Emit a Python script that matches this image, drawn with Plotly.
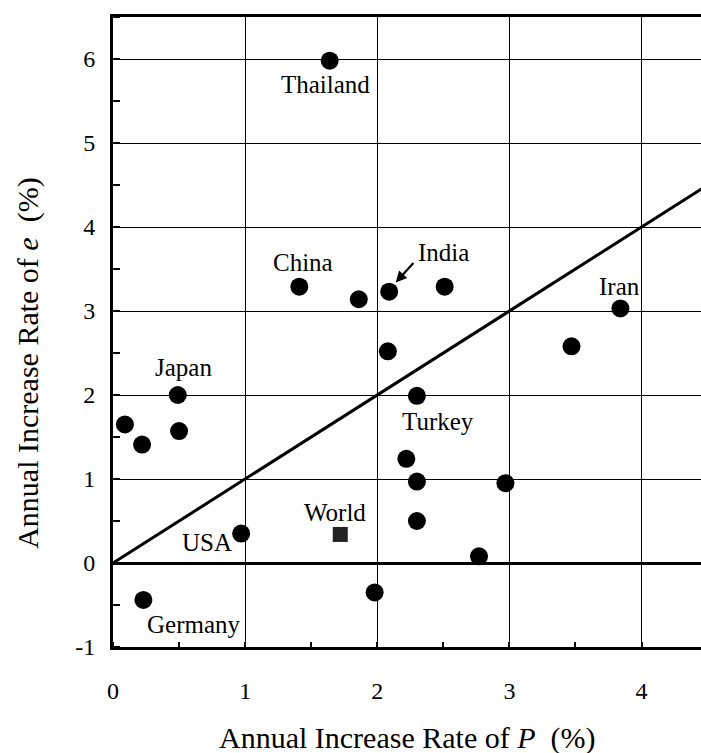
import plotly.graph_objects as go

# Data
pop_rate = [1.64, 1.41, 1.86, 2.09, 2.51, 3.84, 3.47, 2.08, 0.49, 0.09, 0.22,
            0.50, 0.97, 0.23, 2.30, 2.22, 2.30, 2.97, 2.30, 2.77, 1.98]
energy_rate = [5.98, 3.29, 3.14, 3.23, 3.29, 3.03, 2.58, 2.52, 2.00, 1.65, 1.41,
               1.57, 0.35, -0.44, 1.99, 1.24, 0.97, 0.95, 0.50, 0.08, -0.35]
world_pop = [1.72]
world_energy = [0.34]
equal_line = [0, 4.5]

label_names = ["Thailand", "China", "India", "Iran", "Japan", "USA", "World", "Germany", "Turkey"]
label_x = [1.61, 1.44, 2.50, 3.83, 0.53, 0.71, 1.68, 0.61, 2.46]
label_y = [5.70, 3.58, 3.70, 3.29, 2.33, 0.24, 0.60, -0.73, 1.69]

x_ticks = [0, 1, 2, 3, 4]
y_ticks = [-1, 0, 1, 2, 3, 4, 5, 6]

FONT = "Liberation Serif"

fig = go.Figure()
fig.add_trace(go.Scatter(x=equal_line, y=equal_line, mode="lines",
                         line=dict(color="black", width=3), showlegend=False,
                         hoverinfo="skip"))
fig.add_trace(go.Scatter(x=pop_rate, y=energy_rate, mode="markers",
                         marker=dict(color="black", size=18, symbol="circle"),
                         showlegend=False))
fig.add_trace(go.Scatter(x=world_pop, y=world_energy, mode="markers",
                         marker=dict(color="#222", size=15, symbol="square"),
                         showlegend=False))

annotations = []
for name, lx, ly in zip(label_names, label_x, label_y):
    annotations.append(dict(x=lx, y=ly, xref="x", yref="y", text=name,
                            showarrow=False, font=dict(family=FONT, size=25, color="black")))
# arrow pointing to India
annotations.append(dict(x=2.14, y=3.34, xref="x", yref="y", text="", showarrow=True,
                        ax=19, ay=-21, arrowhead=2, arrowsize=1, arrowwidth=2.2,
                        arrowcolor="black"))
# axis titles
annotations.append(dict(x=0.5, y=-0.1446, xref="paper", yref="paper",
                        text="Annual Increase Rate of <i>P</i>  (%)", showarrow=False,
                        font=dict(family=FONT, size=30, color="black"), yanchor="middle"))
annotations.append(dict(x=-0.1446, y=0.451, xref="paper", yref="paper",
                        text="Annual Increase Rate of <i>e</i>  (%)", showarrow=False,
                        textangle=-90,
                        font=dict(family=FONT, size=30, color="black"), xanchor="center"))

fig.update_layout(
    width=701, height=753,
    margin=dict(l=113, r=0, t=17, b=106),
    paper_bgcolor="white", plot_bgcolor="white",
    annotations=annotations,
    xaxis=dict(range=[0, 4.45], tickvals=x_ticks, ticktext=[str(v) for v in x_ticks],
               showgrid=True, gridcolor="black", gridwidth=1.3,
               showline=True, linecolor="black", linewidth=3, mirror=True,
               zeroline=False, ticks="", ticklabelstandoff=20,
               tickfont=dict(family=FONT, size=24, color="black"),
               minor=dict(dtick=0.5, tick0=0, ticks="inside", ticklen=5,
                          tickcolor="black", tickwidth=2, showgrid=False)),
    yaxis=dict(range=[-1, 6.5], tickvals=y_ticks, ticktext=[str(v) for v in y_ticks],
               showgrid=True, gridcolor="black", gridwidth=1.3,
               showline=True, linecolor="black", linewidth=3, mirror=False,
               zeroline=True, zerolinecolor="black", zerolinewidth=2.5,
               ticks="", ticklabelstandoff=10,
               tickfont=dict(family=FONT, size=24, color="black"),
               minor=dict(dtick=0.5, tick0=0, ticks="inside", ticklen=7,
                          tickcolor="black", tickwidth=2, showgrid=False)),
)

fig.write_html("out.html", config={"displayModeBar": False},
               post_script="document.body.style.margin='0';document.body.style.overflow='hidden';")
